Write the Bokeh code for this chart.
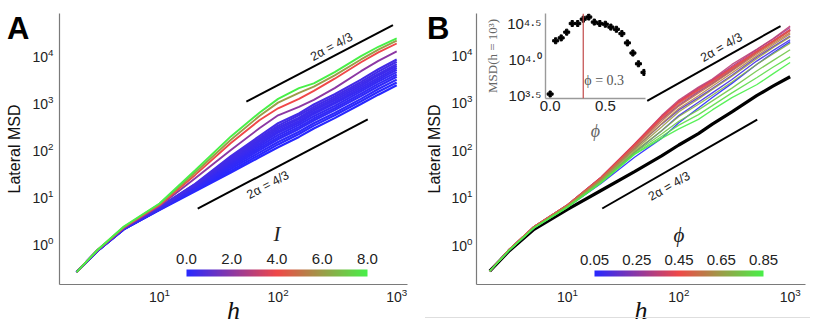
from bokeh.plotting import figure
from bokeh.layouts import row
from bokeh.models import (FixedTicker, Label, ColorBar, LinearColorMapper, Span,
                          PrintfTickFormatter, Div)
from bokeh.embed import file_html
from bokeh.resources import INLINE

# ---------------------------------------------------------------- data
h_grid = [2, 3, 5, 10, 20, 40, 70, 100, 150, 200, 300, 500, 700, 1000]

# Panel A : lateral MSD (log10) for several I
I_values = [0.0, 0.05, 0.10, 0.15, 0.20, 0.25, 0.30, 0.35, 0.40, 0.45, 0.50, 0.55,
            2.0, 4.0, 6.0, 8.0]
msdA_log10 = [
    [-0.62, -0.17, 0.29, 0.70, 1.10, 1.50, 1.83, 2.04, 2.26, 2.44, 2.66, 2.96, 3.16, 3.36],
    [-0.62, -0.17, 0.29, 0.71, 1.12, 1.54, 1.88, 2.10, 2.32, 2.50, 2.72, 3.02, 3.22, 3.42],
    [-0.62, -0.17, 0.29, 0.71, 1.14, 1.58, 1.93, 2.15, 2.37, 2.55, 2.77, 3.07, 3.28, 3.48],
    [-0.62, -0.17, 0.30, 0.72, 1.15, 1.62, 1.98, 2.21, 2.43, 2.61, 2.83, 3.13, 3.34, 3.54],
    [-0.62, -0.17, 0.30, 0.72, 1.17, 1.65, 2.02, 2.25, 2.47, 2.65, 2.87, 3.18, 3.39, 3.59],
    [-0.62, -0.17, 0.30, 0.73, 1.18, 1.68, 2.06, 2.30, 2.52, 2.70, 2.92, 3.23, 3.44, 3.64],
    [-0.62, -0.16, 0.30, 0.74, 1.20, 1.71, 2.10, 2.35, 2.56, 2.75, 2.97, 3.27, 3.48, 3.69],
    [-0.62, -0.16, 0.30, 0.74, 1.21, 1.74, 2.13, 2.38, 2.60, 2.78, 3.00, 3.31, 3.52, 3.73],
    [-0.62, -0.16, 0.31, 0.75, 1.22, 1.76, 2.17, 2.42, 2.64, 2.82, 3.04, 3.35, 3.57, 3.77],
    [-0.62, -0.16, 0.31, 0.75, 1.23, 1.79, 2.20, 2.46, 2.67, 2.86, 3.08, 3.39, 3.60, 3.81],
    [-0.62, -0.16, 0.31, 0.76, 1.25, 1.82, 2.24, 2.50, 2.72, 2.90, 3.12, 3.43, 3.65, 3.86],
    [-0.62, -0.16, 0.31, 0.76, 1.26, 1.85, 2.28, 2.55, 2.76, 2.95, 3.17, 3.48, 3.70, 3.91],
    [-0.62, -0.16, 0.32, 0.79, 1.38, 1.98, 2.45, 2.72, 2.90, 3.05, 3.30, 3.66, 3.88, 4.08],
    [-0.62, -0.15, 0.33, 0.81, 1.45, 2.13, 2.62, 2.87, 3.07, 3.24, 3.50, 3.85, 4.06, 4.25],
    [-0.62, -0.15, 0.34, 0.83, 1.50, 2.20, 2.71, 2.99, 3.20, 3.33, 3.57, 3.91, 4.12, 4.31],
    [-0.62, -0.15, 0.35, 0.84, 1.55, 2.27, 2.78, 3.07, 3.30, 3.40, 3.64, 3.98, 4.18, 4.36],
]

# Panel B : lateral MSD (log10) for several phi, plus reference (phi = 0)
phi_values = [0.05, 0.10, 0.15, 0.20, 0.25, 0.30, 0.35, 0.40, 0.45,
              0.50, 0.55, 0.60, 0.65, 0.70, 0.75, 0.80, 0.85]
msdB_log10 = [
    [-0.58, -0.14, 0.33, 0.77, 1.27, 1.82, 2.22, 2.55, 2.86, 3.08, 3.38, 3.78, 4.02, 4.26],
    [-0.58, -0.13, 0.34, 0.78, 1.31, 1.92, 2.38, 2.70, 2.98, 3.18, 3.46, 3.85, 4.07, 4.30],
    [-0.58, -0.13, 0.35, 0.80, 1.35, 2.00, 2.52, 2.82, 3.08, 3.27, 3.55, 3.93, 4.15, 4.38],
    [-0.58, -0.12, 0.35, 0.81, 1.38, 2.05, 2.62, 2.92, 3.20, 3.38, 3.66, 4.03, 4.26, 4.50],
    [-0.58, -0.12, 0.36, 0.82, 1.39, 2.08, 2.66, 2.98, 3.24, 3.42, 3.70, 4.05, 4.27, 4.50],
    [-0.58, -0.12, 0.36, 0.82, 1.40, 2.09, 2.68, 3.00, 3.28, 3.45, 3.74, 4.09, 4.31, 4.56],
    [-0.58, -0.12, 0.36, 0.82, 1.40, 2.10, 2.70, 3.03, 3.30, 3.47, 3.78, 4.10, 4.32, 4.59],
    [-0.58, -0.12, 0.36, 0.82, 1.40, 2.10, 2.68, 3.00, 3.26, 3.44, 3.72, 4.06, 4.28, 4.52],
    [-0.58, -0.12, 0.36, 0.82, 1.39, 2.08, 2.66, 2.98, 3.25, 3.43, 3.70, 4.04, 4.26, 4.50],
    [-0.58, -0.12, 0.36, 0.81, 1.38, 2.06, 2.63, 2.95, 3.22, 3.40, 3.68, 4.03, 4.25, 4.49],
    [-0.58, -0.13, 0.35, 0.81, 1.37, 2.03, 2.58, 2.90, 3.17, 3.36, 3.64, 4.00, 4.22, 4.45],
    [-0.58, -0.13, 0.35, 0.80, 1.35, 2.00, 2.53, 2.85, 3.12, 3.32, 3.60, 3.96, 4.19, 4.42],
    [-0.58, -0.13, 0.34, 0.79, 1.33, 1.97, 2.46, 2.78, 3.05, 3.25, 3.53, 3.90, 4.13, 4.36],
    [-0.58, -0.13, 0.34, 0.78, 1.31, 1.94, 2.38, 2.68, 2.94, 3.13, 3.41, 3.78, 4.00, 4.23],
    [-0.58, -0.14, 0.34, 0.77, 1.30, 1.91, 2.31, 2.58, 2.82, 3.01, 3.28, 3.64, 3.86, 4.09],
    [-0.58, -0.14, 0.33, 0.77, 1.29, 1.89, 2.26, 2.50, 2.72, 2.91, 3.18, 3.50, 3.72, 3.94],
    [-0.58, -0.14, 0.33, 0.76, 1.28, 1.88, 2.22, 2.42, 2.62, 2.82, 3.08, 3.35, 3.58, 3.82],
]
msdB_ref_log10 = [-0.58, -0.15, 0.30, 0.72, 1.12, 1.52, 1.85, 2.08, 2.32, 2.52, 2.78, 3.12, 3.32, 3.52]

# Inset : MSD at h = 10^3 versus phi (end points of the panel-B curves)
phi_inset = [0.0] + phi_values
msd_inset_log10 = [msdB_ref_log10[-1]] + [r[-1] for r in msdB_log10]
inset_phi_marker = 0.3
inset_ytick_exp = [3.5, 4.0, 4.5]
inset_ytick_labels = ["10\u00b3\u00b7\u2075", "10\u2074\u00b7\u2070", "10\u2074\u00b7\u2075"]
inset_xticks = [0.0, 0.5]

# guide lines (2 alpha = 4/3)
guideA_upper_h, guideA_upper_msd = [54, 930], [1030, 44000]
guideA_lower_h, guideA_lower_msd = [21, 570], [5.4, 432]
guideB_upper_h, guideB_upper_msd = [52, 820], [1020, 38900]
guideB_lower_h, guideB_lower_msd = [20.5, 506], [5.5, 412]
guide_text = "2\u03b1 = 4/3"

x_ticks = [10, 100, 1000]
y_ticks = [1, 10, 100, 1000, 10000]
cbarA_ticks = [0.0, 2.0, 4.0, 6.0, 8.0]
cbarB_ticks = [0.05, 0.25, 0.45, 0.65, 0.85]

# ---------------------------------------------------------------- styling helpers
SANS = "Liberation Sans"
SERIF = "Liberation Serif"


def mix(t):
    stops = [(40, 40, 255), (240, 72, 72), (72, 240, 72)]
    t = min(max(t, 0.0), 1.0)
    if t <= 0.5:
        a, b, u = stops[0], stops[1], t / 0.5
    else:
        a, b, u = stops[1], stops[2], (t - 0.5) / 0.5
    r, g, bl = (round(a[i] + (b[i] - a[i]) * u) for i in range(3))
    return "#%02x%02x%02x" % (r, g, bl)


palette = [mix(i / 255) for i in range(256)]


def style_main(p, ylabel_standoff, ytick_standoff):
    p.outline_line_color = None
    p.grid.visible = False
    for ax in (p.xaxis[0], p.yaxis[0]):
        ax.axis_line_color = "#7a7a7a"
        ax.axis_line_width = 1.2
        ax.major_tick_line_color = None
        ax.minor_tick_line_color = None
        ax.major_tick_out = 0
        ax.major_tick_in = 0
        ax.minor_tick_out = 0
        ax.minor_tick_in = 0
        ax.major_label_text_font = SANS
        ax.major_label_text_font_size = "14px"
        ax.major_label_text_color = "#222222"
    p.xaxis[0].ticker = FixedTicker(ticks=x_ticks)
    p.yaxis[0].ticker = FixedTicker(ticks=y_ticks)
    p.xaxis[0].major_label_standoff = 3
    p.yaxis[0].major_label_standoff = ytick_standoff
    p.yaxis[0].axis_label = "Lateral MSD"
    p.yaxis[0].axis_label_text_font = SANS
    p.yaxis[0].axis_label_text_font_style = "normal"
    p.yaxis[0].axis_label_text_font_size = "16px"
    p.yaxis[0].axis_label_text_color = "#111111"
    p.yaxis[0].axis_label_standoff = ylabel_standoff
    p.xaxis[0].axis_label = "h"
    p.xaxis[0].axis_label_text_font = SERIF
    p.xaxis[0].axis_label_text_font_style = "italic"
    p.xaxis[0].axis_label_text_font_size = "26px"
    p.xaxis[0].axis_label_text_color = "#111111"
    p.xaxis[0].axis_label_standoff = -9


def add_colorbar(p, low, high, ticks, fmt, title, left, width, height):
    cm = LinearColorMapper(palette=palette, low=low, high=high)
    cb = ColorBar(color_mapper=cm, orientation="horizontal", location=(left, 8),
                  width=width, height=height, padding=0, margin=0,
                  ticker=FixedTicker(ticks=[]), major_tick_line_color=None,
                  minor_tick_line_color=None, major_tick_out=0, major_tick_in=0,
                  minor_tick_out=0, minor_tick_in=0, bar_line_color=None,
                  border_line_color=None, background_fill_alpha=0,
                  label_standoff=0, major_label_text_font_size="0px")
    p.add_layout(cb)
    for t in ticks:
        p.add_layout(Label(x=left + width * (t - low) / (high - low), y=8 + height + 11,
                           x_units="screen", y_units="screen", text=fmt % t,
                           text_font=SANS, text_font_size="15px", text_color="#222222",
                           text_align="center", text_baseline="middle"))
    p.add_layout(Label(x=left + width / 2, y=8 + height + 36, x_units="screen", y_units="screen",
                       text=title, text_font=SERIF, text_font_style="italic",
                       text_font_size="21px", text_color="#222222",
                       text_align="center", text_baseline="middle"))


def guide(p, hs, ms, tx, ty, angle):
    p.line(hs, ms, line_color="black", line_width=2)
    p.add_layout(Label(x=tx, y=ty, text=guide_text, angle=angle, text_font=SANS,
                       text_font_size="12.5px", text_color="#222222",
                       text_align="center", text_baseline="middle"))


def panel_letter(letter, left):
    return Div(text='<div style="font-family: \'Liberation Sans\'; font-weight: bold; '
                    'font-size: 31px; line-height: 31px; color: #000000;">%s</div>' % letter,
               width=30, height=36,
               styles={"position": "absolute", "left": "%dpx" % left, "top": "8px"})


# ---------------------------------------------------------------- panel A
pA = figure(width=410, height=334, x_axis_type="log", y_axis_type="log",
            x_range=(10 ** 0.157, 10 ** 3.091), y_range=(10 ** -0.885, 10 ** 4.889),
            min_border_left=59, min_border_right=3, min_border_top=13, min_border_bottom=45,
            output_backend="svg", toolbar_location=None)
style_main(pA, 6, 6)
for I, r in zip(I_values, msdA_log10):
    pA.line(h_grid, [10 ** v for v in r], line_color=mix(I / 8.0),
            line_width=1.9 if I >= 2 else 2.2)
guide(pA, guideA_upper_h, guideA_upper_msd, 282, 15100, 0.49)
guide(pA, guideA_lower_h, guideA_lower_msd, 82, 17.3, 0.49)
add_colorbar(pA, 0.0, 8.0, cbarA_ticks, "%.1f", "I", 127, 181, 7)

# ---------------------------------------------------------------- panel B
pB = figure(width=402, height=334, x_axis_type="log", y_axis_type="log",
            x_range=(10 ** 0.182, 10 ** 3.138), y_range=(10 ** -0.863, 10 ** 4.854),
            min_border_left=66, min_border_right=7, min_border_top=13, min_border_bottom=46,
            output_backend="svg", toolbar_location=None)
style_main(pB, 5, 4)
pB.line(h_grid, [10 ** v for v in msdB_ref_log10], line_color="black", line_width=3.2)
for phi, r in zip(phi_values, msdB_log10):
    pB.line(h_grid, [10 ** v for v in r], line_color=mix((phi - 0.05) / 0.8),
            line_width=1.3, line_alpha=0.9)
guide(pB, guideB_upper_h, guideB_upper_msd, 241, 13800, 0.52)
guide(pB, guideB_lower_h, guideB_lower_msd, 82, 16.2, 0.52)
add_colorbar(pB, 0.05, 0.85, cbarB_ticks, "%.2f", "\u03d5", 118, 169, 6)

# ---------------------------------------------------------------- inset
pI = figure(width=168, height=148, y_axis_type="log",
            x_range=(-0.042, 0.864), y_range=(10 ** 3.458, 10 ** 4.639),
            min_border_left=56, min_border_right=5, min_border_top=13, min_border_bottom=50,
            output_backend="svg", toolbar_location=None,
            background_fill_alpha=0, border_fill_alpha=0)
pI.styles = {"position": "absolute", "left": "482px", "top": "0px"}
pI.outline_line_color = None
pI.grid.visible = False
for ax in (pI.xaxis[0], pI.yaxis[0]):
    ax.axis_line_color = "#9a9a9a"
    ax.axis_line_width = 1.4
    ax.major_tick_line_color = None
    ax.minor_tick_line_color = None
    ax.major_tick_out = 0
    ax.minor_tick_out = 0
    ax.major_label_text_font = SANS
    ax.major_label_text_color = "#222222"
pI.xaxis[0].ticker = FixedTicker(ticks=inset_xticks)
pI.xaxis[0].formatter = PrintfTickFormatter(format="%.1f")
pI.xaxis[0].major_label_text_font_size = "15px"
pI.xaxis[0].major_label_standoff = 2
pI.xaxis[0].axis_label = "\u03d5"
pI.xaxis[0].axis_label_text_font = SERIF
pI.xaxis[0].axis_label_text_font_style = "italic"
pI.xaxis[0].axis_label_text_font_size = "18px"
pI.xaxis[0].axis_label_text_color = "#666666"
pI.xaxis[0].axis_label_standoff = 7
yt = [10 ** e for e in inset_ytick_exp]
pI.yaxis[0].ticker = FixedTicker(ticks=yt)
pI.yaxis[0].major_label_overrides = {t: s for t, s in zip(yt, inset_ytick_labels)}
pI.yaxis[0].major_label_text_font_size = "15px"
pI.yaxis[0].major_label_standoff = 4
pI.yaxis[0].axis_label = "MSD(h = 10\u00b3)"
pI.yaxis[0].axis_label_text_font = SERIF
pI.yaxis[0].axis_label_text_font_style = "normal"
pI.yaxis[0].axis_label_text_font_size = "13px"
pI.yaxis[0].axis_label_text_color = "#666666"
pI.yaxis[0].axis_label_standoff = 4
pI.add_layout(Span(location=inset_phi_marker, dimension="height",
                   line_color="#c24a4a", line_width=1.2))
pI.scatter(phi_inset, [10 ** v for v in msd_inset_log10], marker="plus", size=6,
           fill_color="black", line_color="black")
pI.add_layout(Label(x=inset_phi_marker + 0.01, y=10 ** 3.71,
                    text="\u03d5 = %.1f" % inset_phi_marker, text_font=SERIF,
                    text_font_size="14px", text_color="#555555",
                    text_align="left", text_baseline="middle"))

# faint rule under panel B (present in the reference figure)
rule = Div(text="", width=385, height=1,
           styles={"position": "absolute", "left": "420px", "top": "312px",
                   "border-top": "1px solid #dedede"})

layout = row(pA, pB, pI, panel_letter("A", 2), panel_letter("B", 422), rule)
open("out.html", "w").write(file_html(layout, INLINE))
